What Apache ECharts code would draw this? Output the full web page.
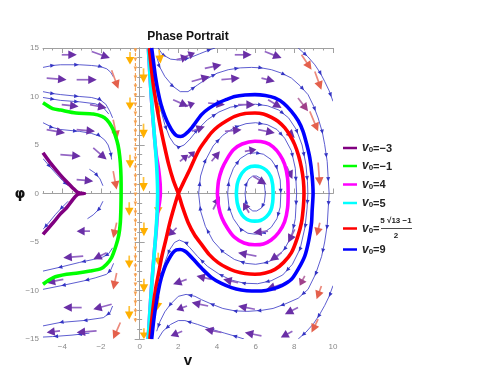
<!DOCTYPE html>
<html><head><meta charset="utf-8">
<script src="https://cdn.jsdelivr.net/npm/echarts@6/dist/echarts.min.js"></script>
<style>html,body{margin:0;padding:0;background:#fff}#c{width:479px;height:371px}</style>
</head><body><div id="c"></div>
<script>
// ---------- axis ticks ----------
const xTicks = [-4, -2, 0, 2, 4, 6, 8, 10];
const yTicks = [-15, -10, -5, 0, 5, 10, 15];

// ---------- thick curves (v, phi) ----------
const curveV0m3 = [[-5,4.2],[-4.6,3.1],[-4.12,1.95],[-3.75,1.15],[-3.45,0.55],[-3.22,0.12],[-3.05,0.02],[-2.85,0],
  [-3.05,-0.02],[-3.22,-0.12],[-3.45,-0.6],[-3.78,-1.47],[-4.1,-2.1],[-4.47,-3.01],[-5,-4.22]];
const curveV0m1 = [[-5,9.35],[-4.5,8.75],[-4.1,8.6],[-3.3,8.3],[-2.4,8.2],[-1.95,7.95],[-1.7,7.6],[-1.45,6.9],[-1.28,6.1],
  [-1.12,5.0],[-1.03,3.8],[-0.98,2.5],[-0.96,1.0],[-0.96,0],[-0.97,-1.5],[-1.0,-3.0],[-1.08,-4.3],[-1.23,-5.42],
  [-1.45,-6.6],[-1.71,-7.3],[-2.0,-7.75],[-2.57,-8.0],[-3.2,-8.2],[-3.78,-8.33],[-4.47,-8.67],[-5,-9.36]];
const curveV04Ring = [[4.02,0],[4.08,1.3],[4.25,2.5],[4.5,3.5],[4.85,4.5],[5.3,5.1],[5.96,5.38],[6.5,5.25],[6.9,4.8],
  [7.25,4.0],[7.5,3.0],[7.65,1.6],[7.68,0],[7.65,-1.5],[7.5,-2.9],[7.2,-4.0],[6.8,-4.8],[6.4,-5.2],[5.96,-5.28],
  [5.4,-5.1],[4.9,-4.5],[4.55,-3.6],[4.25,-2.5],[4.08,-1.3],[4.02,0]];
const curveV04Branch = [[0.45,15],[0.6,10],[0.76,6],[0.86,4],[0.98,2.5],[1.06,1],[1.07,0],[1.02,-1],[0.93,-2],[0.86,-3.8],[0.76,-6],[0.6,-10],[0.44,-15]];
const curveV05Ring = [[5.0,0],[5.05,1.0],[5.2,1.8],[5.45,2.45],[5.75,2.78],[5.96,2.82],[6.25,2.75],[6.55,2.4],[6.78,1.75],
  [6.88,0.9],[6.9,0],[6.88,-0.9],[6.78,-1.75],[6.55,-2.4],[6.25,-2.78],[5.96,-2.85],[5.7,-2.8],[5.4,-2.45],[5.18,-1.8],[5.05,-1.0],[5.0,0]];
const curveV05Branch = [[0.45,15],[0.6,10],[0.76,6],[0.84,4],[0.9,2],[0.93,0],[0.9,-2],[0.84,-4],[0.76,-6],[0.6,-10],[0.44,-15]];
const curveSep = [[0.5,15],[0.6,13],[0.72,11],[0.88,9],[1.06,7],[1.27,5],[1.5,3],[1.75,1.3],[2.0,0],[2.2,-1.3],[2.51,-3.01],
  [2.85,-4.3],[3.2,-5.25],[3.6,-6.3],[4.06,-7.13],[4.5,-7.65],[4.92,-8.0],[5.45,-8.25],[5.96,-8.33],[6.5,-8.2],[7.0,-7.82],
  [7.45,-7.1],[7.85,-6.1],[8.15,-4.6],[8.37,-3.01],[8.47,-1.3],[8.5,0],[8.47,1.3],[8.37,2.64],[8.22,3.9],[8.02,5.04],[7.8,5.9],
  [7.51,6.76],[7.15,7.45],[6.82,7.85],[6.4,8.2],[5.96,8.3],[5.45,8.25],[4.92,7.95],[4.5,7.5],[4.06,6.92],[3.7,6.25],[3.37,5.38],
  [3.1,4.6],[2.86,3.67],[2.6,2.5],[2.34,1.44],[2.15,0.65],[2.0,0],[1.8,-1.3],[1.56,-3.01],[1.35,-4.8],[1.15,-6.45],[0.98,-8.2],
  [0.82,-9.9],[0.68,-12],[0.53,-15]];
const curveV09 = [[0.62,15],[0.72,13.5],[0.82,12],[0.95,10.5],[1.1,9.2],[1.3,8.0],[1.5,7.1],[1.72,6.35],[1.92,5.95],[2.12,5.88],
  [2.34,6.07],[2.7,6.8],[3.2,8.13],[3.6,8.8],[4.06,9.33],[4.5,9.7],[4.92,10.0],[5.45,10.15],[5.96,10.19],[6.5,10.1],[6.99,9.85],
  [7.45,9.3],[7.85,8.47],[8.2,7.5],[8.45,6.41],[8.65,5.0],[8.8,3.67],[8.92,1.8],[8.97,0],[8.92,-1.8],[8.89,-3.01],[8.75,-4.8],
  [8.54,-6.45],[8.2,-7.8],[7.85,-8.85],[7.35,-9.5],[6.82,-9.88],[6.3,-10.05],[5.79,-10.05],[5.25,-9.95],[4.75,-9.7],[4.2,-9.25],
  [3.72,-8.67],[3.3,-7.9],[2.86,-6.96],[2.55,-6.3],[2.34,-5.94],[2.1,-5.78],[1.9,-5.82],[1.7,-6.15],[1.5,-6.8],[1.3,-7.6],
  [1.12,-8.7],[0.98,-9.9],[0.84,-11.5],[0.72,-13.2],[0.62,-15]];

// ---------- stream lines (points in flow order) ----------
const streamLines = [
  [[-5,13.0],[-4.5,13.2],[-4.1,13.27],[-3.1,13.27],[-2.5,13.2],[-2.05,13.1],[-1.7,12.85],[-1.5,12.5],[-1.35,12.0]],
  [[-5,10.5],[-4.5,10.3],[-4.1,10.2],[-3.1,10.0],[-2.5,9.9],[-2.05,9.67],[-1.75,9.2],[-1.55,8.5],[-1.4,7.8]],
  [[-5,9.9],[-4.1,9.6],[-3.1,9.45],[-2.3,9.25],[-1.9,8.9],[-1.6,8.2]],
  [[-5,7.3],[-4.5,6.8],[-4.1,6.6],[-3.1,6.4],[-2.5,6.2],[-2.05,5.9],[-1.8,5.5],[-1.63,5.0],[-1.5,4.2],[-1.45,3.5]],
  [[-5,3.6],[-4.7,2.9],[-4.35,2.1],[-4.0,1.35],[-3.7,0.8]],
  [[-2.6,2.5],[-2.3,2.1],[-2.05,1.5],[-1.9,0.8]],
  [[-1.4,-5.6],[-1.6,-6.2],[-1.9,-6.55],[-2.4,-6.8],[-3.1,-7.1],[-4.12,-7.6],[-5,-8.0]],
  [[-1.35,-7.2],[-1.5,-7.9],[-1.71,-8.33],[-2.3,-8.7],[-2.92,-9.02],[-4.12,-9.53],[-5,-9.88]],
  [[-1.4,-11.6],[-1.54,-12.3],[-1.88,-12.8],[-2.92,-13.1],[-4.12,-13.3],[-5,-13.65]],
  [[-2.6,-14.4],[-3.5,-14.6],[-4.5,-14.75],[-5,-14.8]],
  [[-3.7,-0.8],[-4.0,-1.4],[-4.35,-2.15],[-4.7,-3.0],[-5,-3.7]],
  [[-1.9,-0.8],[-2.1,-1.6],[-2.4,-2.2],[-2.7,-2.6]],
  [[0.88,14.1],[1.05,13.0],[1.3,12.07],[1.73,11.04],[2.1,10.5],[2.5,10.5],[3.0,11.2],[3.37,11.7],[4.0,12.4],[4.58,12.76],
   [5.2,12.95],[5.79,13.0],[6.3,12.95],[6.82,12.76],[7.35,12.4],[7.85,11.9],[8.3,11.1],[8.71,10.19],[9.0,9.0],[9.23,7.79],
   [9.45,6.3],[9.57,5.04],[9.7,3.3],[9.75,1.62],[9.8,0],[9.75,-1.6],[9.7,-3.3],[9.57,-5.0],[9.41,-6.5],[9.1,-8.3],[8.71,-9.88],
   [8.2,-10.8],[7.51,-11.4],[6.9,-11.85],[6.3,-12.05],[5.6,-12.15],[4.92,-12.1],[4.3,-11.85],[3.72,-11.4],[3.2,-10.95],
   [2.86,-10.6],[2.4,-10.4],[2.0,-10.6],[1.6,-11.4],[1.3,-12.2],[1.05,-13.2],[0.88,-14.2]],
  [[8.2,15],[8.7,14.1],[9.06,13.27],[9.35,12.4],[9.57,11.55],[9.8,10.6],[10,9.5]],
  [[10,-9.5],[9.8,-10.6],[9.57,-11.55],[9.3,-12.5],[9.0,-13.4],[8.6,-14.3],[8.2,-15]],
  [[0.95,15],[1.2,14.3],[1.6,13.85],[2.1,13.75],[2.6,14.0],[3.1,14.4],[3.6,14.8],[3.9,15]],
  [[5.4,-15],[4.92,-14.7],[4.4,-14.4],[3.72,-14.0],[3.0,-13.5],[2.34,-13.1],[2.0,-13.1],[1.6,-13.5],[1.2,-14.2],[0.95,-15]],
  [[0.56,15],[0.66,13.5],[0.78,12],[0.92,10.3],[1.08,8.7],[1.3,7.1],[1.55,5.8],[1.8,5.05],[2.05,4.8],[2.3,5.0],[2.6,5.6],
   [3.0,6.6],[3.5,7.6],[4.1,8.4],[4.7,8.9],[5.4,9.15],[6.0,9.2],[6.6,9.05],[7.2,8.6],[7.7,7.8],[8.1,6.6],[8.4,5.0],[8.6,3.0],
   [8.68,1.2],[8.7,0],[8.66,-1.5],[8.55,-3.5],[8.3,-5.7],[7.9,-7.3],[7.4,-8.4],[6.8,-9.0],[6.1,-9.3],[5.4,-9.25],[4.7,-8.9],
   [4.1,-8.3],[3.5,-7.5],[3.0,-6.5],[2.6,-5.6],[2.3,-5.0],[2.05,-4.8],[1.8,-5.05],[1.55,-5.8],[1.3,-7.1],[1.08,-8.7],
   [0.92,-10.3],[0.78,-12],[0.66,-13.5],[0.56,-15]],
  [[3.05,0],[3.15,1.8],[3.4,3.4],[3.8,4.9],[4.3,6.0],[4.9,6.8],[5.5,7.2],[6.0,7.3],[6.6,7.1],[7.1,6.6],[7.5,5.7],[7.85,4.4],
   [8.05,2.6],[8.12,0],[8.05,-2.6],[7.85,-4.4],[7.5,-5.7],[7.1,-6.6],[6.6,-7.1],[6.0,-7.3],[5.5,-7.2],[4.9,-6.8],[4.3,-6.0],
   [3.8,-4.9],[3.4,-3.4],[3.15,-1.8],[3.05,0]],
  [[4.55,0],[4.62,1.4],[4.85,2.6],[5.2,3.6],[5.6,4.1],[6.0,4.2],[6.4,4.05],[6.8,3.5],[7.1,2.6],[7.27,1.4],[7.3,0],[7.27,-1.4],
   [7.1,-2.6],[6.8,-3.5],[6.4,-4.05],[6.0,-4.2],[5.6,-4.1],[5.2,-3.6],[4.85,-2.6],[4.62,-1.4],[4.55,0]],
  [[5.45,0],[5.5,0.9],[5.65,1.5],[5.85,1.8],[6.05,1.8],[6.3,1.5],[6.45,0.9],[6.5,0],[6.45,-0.9],[6.3,-1.5],[6.05,-1.8],
   [5.85,-1.8],[5.65,-1.5],[5.5,-0.9],[5.45,0]]
];
const singularLine = [[-0.22,15],[-0.22,-13.3]];

// ---------- field arrows: [v1, phi1, v2, phi2, colour class] ----------
// 0 purple, 1 red, 2 yellow, 3 purple-red
const fieldArrows = [
  [-4.03,14.3,-3.25,14.3,0],[-2.48,14.64,-1.54,13.96,0],[-4.81,11.9,-3.78,11.73,0],[-3.26,11.73,-2.22,11.73,0],
  [-4.03,9.16,-3.16,8.98,0],[-2.57,9.16,-1.71,8.82,0],[-4.81,6.58,-3.86,6.24,0],[-3.26,6.58,-2.31,6.41,0],
  [-4.1,4.0,-3.05,3.85,0],[-2.4,4.7,-1.71,3.5,0],[-3.26,1.44,-2.4,1.27,0],
  [-1.45,12.7,-1.1,10.8,1],[-1.37,7.6,-1.16,5.6,1],[-1.37,2.3,-1.19,0.4,1],[-1.19,-3.0,-1.37,-4.6,1],
  [-1.19,-8.2,-1.37,-9.9,1],[-1.0,-13.3,-1.37,-15,1],
  [-2.57,-3.88,-3.26,-3.88,0],[-2.92,-6.45,-3.95,-6.62,0],[-1.71,-6.1,-2.4,-6.79,0],[-3.95,-8.85,-4.81,-9.19,0],
  [-3.0,-11.76,-3.95,-11.76,0],[-1.45,-11.42,-2.4,-11.93,0],[-4.12,-14.16,-4.81,-14.33,0],[-2.23,-14.16,-3.26,-14.33,0],
  [2.34,14.1,2.86,14.5,0],[3.37,12.9,4.23,13.27,0],[4.92,14.3,5.79,14.3,0],[6.47,14.64,7.34,13.96,0],
  [8.37,14.3,8.89,12.76,1],[9.06,12.58,9.4,10.7,1],[2.69,11.55,3.63,12.07,0],[4.23,11.73,5.18,11.9,0],
  [6.3,11.9,6.99,11.55,0],[8.19,9.85,8.71,8.47,3],[8.8,8.47,9.23,6.41,1],[2.34,8.98,2.86,9.33,0],
  [3.54,9.33,4.41,9.16,0],[5.09,9.16,5.96,9.16,0],[6.64,9.67,7.34,8.82,0],[7.51,6.76,8.02,5.73,0],
  [2.69,6.41,3.37,6.92,0],[4.41,6.41,5.27,6.58,0],[6.13,6.58,6.99,6.24,0],[2.51,3.67,2.86,4.35,0],
  [3.72,3.32,4.15,4.35,0],[5.44,4.35,6.04,4.53,0],[7.6,2.8,7.9,1.5,0],[5.87,1.78,6.56,0.93,0],
  [1.73,9.67,2.51,8.98,0],[1.91,13.8,2.51,14.1,0],[2.08,3.32,2.51,4.0,0],[9.23,3.2,9.32,0.8,1],
  [3.8,-1.65,4.15,-0.28,0],[5.66,-1.98,5.35,-0.96,0],[6.64,-3.88,5.87,-4.04,0],[8.02,-3.7,7.68,-5.07,0],
  [9.32,-3.01,9.15,-4.39,1],[6.04,-6.45,5.09,-6.1,0],[7.34,-6.1,6.73,-6.96,0],[8.54,-8.5,8.28,-9.5,3],
  [9.4,-9.53,9.15,-10.9,1],[3.72,-8.85,2.94,-8.5,0],[5.09,-9.19,4.32,-8.85,0],[7.34,-9.36,6.56,-9.88,0],
  [3.54,-11.6,2.69,-11.24,0],[5.96,-11.93,5.09,-11.6,0],[8.19,-11.76,7.51,-12.45,0],[9.23,-12.96,8.89,-14.33,1],
  [4.23,-14.33,3.37,-13.99,0],[6.3,-14.68,5.44,-14.33,0],[7.9,-14.2,7.3,-14.85,0],
  [1.91,-3.53,1.48,-4.39,0],[2.43,-8.85,1.73,-9.36,0],[2.45,-11.6,1.9,-12.0,0],[2.2,-14.2,1.6,-14.7,0],
  [-0.5,14.6,-0.5,13.3,2],[-0.5,9.9,-0.5,8.6,2],[-0.5,4.0,-0.5,2.6,2],[-0.54,-0.9,-0.54,-2.3,2],
  [-0.54,-6.4,-0.54,-7.7,2],[-0.54,-11.6,-0.54,-13.0,2],
  [0.2,12.9,0.2,11.4,2],[0.2,7.2,0.2,5.7,2],[0.2,1.7,0.2,0.2,2],[0.22,-3.0,0.22,-4.4,2],
  [0.22,-8.8,0.22,-10.2,2],[0.22,-13.9,0.22,-15,2],
  [1.0,14.8,1.08,13.4,2],[1.02,9.6,1.0,8.2,2],[0.96,-0.9,0.96,-2.2,2],[0.96,-6.1,0.96,-7.4,2],[1.0,-10.6,0.88,-12.1,2]
];

// ---------- legend ----------
const legendNames = ['=−3', '=−1', '=4', '=5', '=', '=9'];
const legendColors = ['#800080', '#00ff00', '#ff00ff', '#00ffff', '#ff0000', '#0000ff'];

const headColors = ['#6a2fa6', '#e4604c', '#ffb000', '#a0408a'];
const shaftColors = ['#9466c4', '#ec8a7c', '#ffc23a', '#b874a8'];

const chart = echarts.init(document.getElementById('c'), null, {renderer: 'canvas'});

function arrowItem(params, api) {
  const p1 = api.coord([api.value(0), api.value(1)]);
  const p2 = api.coord([api.value(2), api.value(3)]);
  const c = api.value(4);
  const dx = p2[0] - p1[0], dy = p2[1] - p1[1];
  const L = Math.hypot(dx, dy) || 1;
  const ux = dx / L, uy = dy / L;
  const h = Math.min(8.5, L * 0.6), w = 4.3;
  const bx = p2[0] - ux * h, by = p2[1] - uy * h;
  return {type: 'group', children: [
    {type: 'line', shape: {x1: p1[0], y1: p1[1], x2: bx + ux * 1, y2: by + uy * 1}, style: {stroke: shaftColors[c], lineWidth: 1.7}},
    {type: 'polygon', shape: {points: [[p2[0], p2[1]], [bx - uy * w, by + ux * w], [bx + uy * w, by - ux * w]]},
     style: {fill: headColors[c]}}
  ]};
}

function streamItemFactory(lines, color, spacing, hl, hw, width, dash) {
  return function (params, api) {
    const pts = lines[api.value(2)].map(p => api.coord(p));
    const children = [{type: 'polyline', shape: {points: pts},
      style: {stroke: color, lineWidth: width, fill: null, lineDash: dash || null}}];
    let acc = 0, next = spacing * 0.5;
    for (let i = 1; i < pts.length; i++) {
      const a = pts[i - 1], b = pts[i];
      const sl = Math.hypot(b[0] - a[0], b[1] - a[1]);
      if (!sl) continue;
      const ux = (b[0] - a[0]) / sl, uy = (b[1] - a[1]) / sl;
      while (next <= acc + sl) {
        const t = next - acc;
        const tx = a[0] + ux * t, ty = a[1] + uy * t;
        const bx = tx - ux * hl, by = ty - uy * hl;
        children.push({type: 'polygon', shape: {points: [[tx, ty], [bx - uy * hw, by + ux * hw], [bx + uy * hw, by - ux * hw]]},
          style: {fill: color}});
        next += spacing;
      }
      acc += sl;
    }
    return {type: 'group', children: children};
  };
}

function thick(name, data, color, z) {
  return {type: 'line', name: name, data: data, showSymbol: false, smooth: 0.25, z: z, silent: true,
    lineStyle: {color: color, width: 3.6}, clip: true};
}

const fontFam = 'Liberation Sans, Arial, sans-serif';
const minus = v => (v < 0 ? '−' + Math.abs(v) : String(v));

const subRich = {
  v: {fontFamily: fontFam, fontSize: 12, fontWeight: 'bold', fontStyle: 'italic', fill: '#222', lineHeight: 14, verticalAlign: 'bottom'},
  s: {fontFamily: fontFam, fontSize: 8, fontWeight: 'bold', fill: '#222', lineHeight: 10, verticalAlign: 'bottom'},
  t: {fontFamily: fontFam, fontSize: 11, fontWeight: 'bold', fill: '#222', lineHeight: 14, verticalAlign: 'bottom'}
};
const legendY = [148, 166, 184.5, 203, 228.5, 249.5];
const graphics = [];
legendNames.forEach((n, i) => {
  graphics.push({type: 'line', shape: {x1: 343, y1: legendY[i], x2: 357, y2: legendY[i]},
    style: {stroke: legendColors[i], lineWidth: 2.5}});
  graphics.push({type: 'text', x: 362, y: legendY[i] - 8, style: {text: '{v|v}{s|0}{t|' + n + '}', rich: subRich}});
});
graphics.push({type: 'text', x: 396, y: 221, style: {text: '5 √13 −1', fontFamily: fontFam, fontSize: 8, fontWeight: 'bold',
  fill: '#222', align: 'center', verticalAlign: 'middle'}});
graphics.push({type: 'line', shape: {x1: 381, y1: 228.5, x2: 412, y2: 228.5}, style: {stroke: '#222', lineWidth: 0.8}});
graphics.push({type: 'text', x: 396, y: 236, style: {text: '2', fontFamily: fontFam, fontSize: 8, fontWeight: 'bold',
  fill: '#222', align: 'center', verticalAlign: 'middle'}});
graphics.push({type: 'text', x: 188, y: 37, style: {text: 'Phase Portrait', fontFamily: fontFam, fontSize: 12, fontWeight: 'bold',
  fill: '#111', align: 'center', verticalAlign: 'middle'}});
graphics.push({type: 'text', x: 188, y: 361, style: {text: 'v', fontFamily: fontFam, fontSize: 15, fontWeight: 'bold',
  fill: '#111', align: 'center', verticalAlign: 'middle'}});
graphics.push({type: 'text', x: 20, y: 194, style: {text: 'φ', fontFamily: 'DejaVu Sans, sans-serif', fontSize: 14, fontWeight: 'bold',
  fill: '#111', align: 'center', verticalAlign: 'middle'}});

const option = {
  animation: false,
  backgroundColor: '#fff',
  grid: {left: 43, top: 48, width: 290, height: 291, containLabel: false},
  xAxis: [
    {type: 'value', position: 'bottom', min: -5, max: 10, interval: 0.5,
     axisLine: {show: true, lineStyle: {color: '#a0a0a0'}}, splitLine: {show: false},
     axisTick: {show: true, inside: true, length: 2.5, lineStyle: {color: '#a0a0a0'}},
     axisLabel: {show: false}},
    {type: 'value', position: 'bottom', min: -5, max: 10,
     axisLine: {show: false}, splitLine: {show: false},
     axisTick: {show: true, inside: true, length: 5, customValues: xTicks, lineStyle: {color: '#a0a0a0'}},
     axisLabel: {show: true, customValues: xTicks, formatter: minus, color: '#8a8a8a', fontSize: 8, fontFamily: fontFam, margin: 4}},
    {type: 'value', position: 'top', min: -5, max: 10, interval: 0.5,
     axisLine: {show: true, lineStyle: {color: '#a0a0a0'}}, splitLine: {show: false},
     axisTick: {show: true, inside: true, length: 2.5, lineStyle: {color: '#a0a0a0'}}, axisLabel: {show: false}},
    {type: 'value', position: 'top', min: -5, max: 10,
     axisLine: {show: false}, splitLine: {show: false},
     axisTick: {show: true, inside: true, length: 5, customValues: xTicks, lineStyle: {color: '#a0a0a0'}},
     axisLabel: {show: false, customValues: xTicks}}
  ],
  yAxis: [
    {type: 'value', position: 'left', min: -15, max: 15, interval: 5,
     axisLine: {show: true, lineStyle: {color: '#a0a0a0'}}, splitLine: {show: false},
     axisTick: {show: true, inside: true, length: 5, lineStyle: {color: '#a0a0a0'}},
     minorTick: {show: true, splitNumber: 5, length: 2.5, lineStyle: {color: '#a0a0a0'}},
     axisLabel: {formatter: minus, color: '#8a8a8a', fontSize: 8, fontFamily: fontFam, margin: 4}},
    {type: 'value', position: 'right', min: -15, max: 15, interval: 5,
     axisLine: {show: true, lineStyle: {color: '#a0a0a0'}}, splitLine: {show: false},
     axisTick: {show: true, inside: true, length: 5, lineStyle: {color: '#a0a0a0'}},
     minorTick: {show: true, splitNumber: 5, length: 2.5, lineStyle: {color: '#a0a0a0'}},
     axisLabel: {show: false}}
  ],
  graphic: graphics,
  series: [
    {type: 'custom', name: 'streams', clip: true, z: 2, silent: true,
     data: streamLines.map((s, i) => [s[0][0], s[0][1], i]), encode: {x: 0, y: 1},
     renderItem: streamItemFactory(streamLines, '#3434c4', 24, 4.5, 2, 0.8)},
    {type: 'custom', name: 'singular', clip: true, z: 2, silent: true,
     data: [[singularLine[0][0], singularLine[0][1], 0]], encode: {x: 0, y: 1},
     renderItem: streamItemFactory([singularLine], '#f4a050', 9, 4, 1.8, 1.1, [3, 2])},
    {type: 'custom', name: 'arrows', clip: true, z: 3, silent: true,
     data: fieldArrows, encode: {x: [0, 2], y: [1, 3]}, renderItem: arrowItem},
    thick('v0=-3', curveV0m3, '#800080', 5),
    thick('v0=-1', curveV0m1, '#00ff00', 6),
    thick('v0=4', curveV04Ring, '#ff00ff', 7),
    thick('v0=4b', curveV04Branch, '#ff00ff', 7),
    thick('v0=5', curveV05Ring, '#00ffff', 8),
    thick('v0=5b', curveV05Branch, '#00ffff', 8),
    thick('sep', curveSep, '#ff0000', 9),
    thick('v0=9', curveV09, '#0000ff', 10)
  ]
};
chart.setOption(option);
</script>
</body></html>
